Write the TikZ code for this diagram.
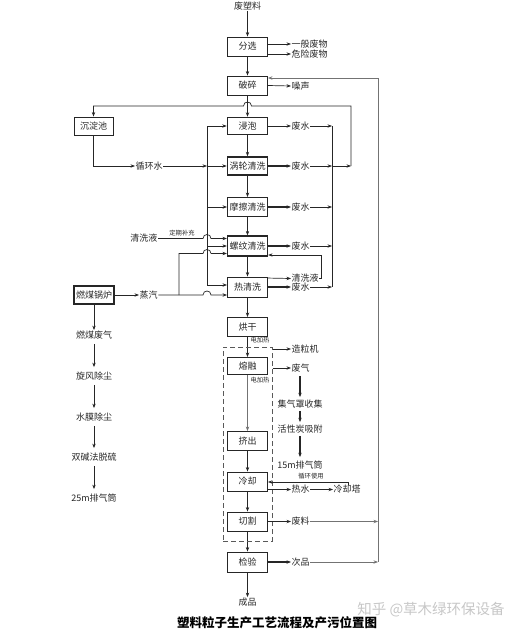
\documentclass[tikz,border=0pt]{standalone}
\usepackage{fontspec}
\setmainfont{Noto Sans CJK SC}
\usetikzlibrary{arrows.meta}
\newcommand\hopup{.. controls +(0,-5.3) and +(0,-5.3) ..}
\begin{document}
\begin{tikzpicture}[x=1pt,y=-1pt,
  every node/.style={font=\fontsize{9}{10}\selectfont, inner sep=0.5pt, text=black!85},
  box/.style={draw=black!85, line width=0.9pt, minimum width=40pt, minimum height=19pt, inner sep=0pt},
  tbox/.style={box, line width=1.5pt},
  lbl/.style={anchor=west},
  arr/.style={-{Stealth[length=4.5pt,width=3.4pt]}, line width=0.7pt, draw=black!85},
  tarr/.style={arr, line width=1.3pt},
  garr/.style={arr, draw=black!55},
  ln/.style={line width=0.7pt, draw=black!85},
  small/.style={font=\fontsize{6.3}{7}\selectfont},
]
\useasboundingbox (0,0) rectangle (524,634);

% ---------- main column ----------
\node (src) at (247.5,6) {废塑料};
\node[box] (fx) at (247.5,46.5) {分选};
\node[lbl] (yb) at (291,44) {一般废物};
\node[lbl] (wx) at (291,54) {危险废物};
\node[box] (ps) at (247.5,85.5) {破碎};
\node[lbl] (zs) at (291,86) {噪声};
\node[tbox, minimum height=17pt] (jp) at (247.5,126) {浸泡};
\node[tbox, minimum height=18pt] (wl) at (247.5,166) {涡轮清洗};
\node[box] (mc) at (247.5,207) {摩擦清洗};
\node[box, line width=1.2pt, minimum height=20pt] (lw) at (247.5,246) {螺纹清洗};
\node[box, minimum height=20pt] (rq) at (247.5,287) {热清洗};
\node[box] (hg) at (247.5,327) {烘干};
\node[box, minimum height=17pt] (rr) at (247.5,366) {熔融};
\node[box] (jc) at (247.5,441) {挤出};
\node[box] (lq) at (247.5,481.5) {冷却};
\node[box] (qg) at (247.5,521.5) {切割};
\node[box, minimum height=20pt] (jy) at (247.5,562) {检验};
\node (cp) at (247.5,602) {成品};

\draw[arr] (src.south) -- (fx.north);
\draw[arr] (fx) -- (ps);
\draw[arr] (ps) -- (jp);
\draw[arr] (jp) -- (wl);
\draw[arr] (wl) -- (mc);
\draw[arr] (mc) -- (lw);
\draw[arr] (lw) -- (rq);
\draw[tarr] (rq) -- (hg);
\draw[tarr] (hg) -- (rr);
\draw[garr] (rr) -- (jc);
\draw[arr] (jc) -- (lq);
\draw[arr] (lq) -- (qg);
\draw[arr] (qg) -- (jy);
\draw[tarr] (jy) -- (cp);

\draw[arr] ([yshift=2.5pt]fx.east) -- (yb.west);
\draw[arr] ([yshift=-7.5pt]fx.east) -- (wx.west);
\draw[arr] (ps.east) -- (zs.west);

% ---------- waste water ----------
\node[lbl] (fs1) at (291,126) {废水};
\node[lbl] (fs2) at (291,166) {废水};
\node[lbl] (fs3) at (291,207) {废水};
\node[lbl] (fs4) at (291,246) {废水};
\node[lbl] (fs5) at (291,287) {废水};
\coordinate (c1) at (332,126);
\coordinate (c2) at (332,166);
\coordinate (c3) at (332,207);
\coordinate (c4) at (332,246);
\coordinate (c5) at (332,287);
\draw[arr] (jp.east) -- (fs1.west);
\draw[tarr] (wl.east) -- (fs2.west);
\draw[tarr] (mc.east) -- (fs3.west);
\draw[tarr] (lw.east) -- (fs4.west);
\draw[tarr] (rq.east) -- (fs5.west);
\foreach \i in {1,...,5} {\draw[arr] (fs\i.east) -- (c\i);}
\draw[ln] (c1) -- (c5);

\node[box, minimum width=39pt, minimum height=18pt] (cdc) at (93.5,126) {沉淀池};
\coordinate (c2r) at (351,166);
\coordinate (tr) at (351,106);
\coordinate (tl) at (93.5,106);
\coordinate (hopR) at (251.5,106);
\coordinate (hopL) at (243.5,106);
\draw[arr] (c2) -- (c2r);
\draw[arr] (c2r) -- (tr) -- (hopR) \hopup (hopL) -- (tl) -- (cdc.north);

% ---------- recycled water ----------
\node[lbl] (xhs) at (135,166) {循环水};
\coordinate (v1) at (207,126);
\coordinate (v2) at (207,166);
\coordinate (v3) at (207,207);
\coordinate (v4) at (207,246);
\coordinate (v5) at (207,285);
\draw[arr] (cdc.south) |- (xhs.west);
\draw[arr] (xhs.east) -- (v2);
\draw[ln] (v1) -- (v5);
\draw[arr] (v1) -- (jp.west);
\draw[arr] (v2) -- (wl.west);
\draw[arr] (v3) -- (mc.west);
\draw[arr] (v4) -- (lw.west);
\draw[arr] (v5) -- (v5 -| rq.west);

% ---------- cleaning liquid ----------
\node[anchor=east] (qxy) at (158,238.5) {清洗液};
\node[small] (dq) at (182,233) {定期补充};
\coordinate (q1) at (203,238.5);
\coordinate (q2) at (211,238.5);
\draw[arr] (qxy.east) -- (q1) \hopup (q2) -- (q2 -| lw.west);

\node[lbl] (qxy2) at (291,278.5) {清洗液};
\coordinate (r1) at (321,278.5);
\coordinate (r2) at (321,255);
\draw[arr] ([yshift=-1.5pt]rq.north east) -- (qxy2.west);
\draw[arr] (qxy2.east) -- (r1) -- (r2) -- (r2 -| lw.east);

% ---------- steam ----------
\node[box, line width=1.3pt, minimum height=18pt] (gl) at (94,295) {燃煤锅炉};
\node[lbl] (zq) at (139,295) {蒸汽};
\coordinate (s0) at (179,295);
\coordinate (s1) at (203,295);
\coordinate (s2) at (211,295);
\coordinate (s3) at (179,253.5);
\coordinate (s4) at (203,253.5);
\coordinate (s5) at (211,253.5);
\draw[arr] (gl.east) -- (zq.west);
\draw[arr] (zq.east) -- (s1) \hopup (s2) -- (s2 -| rq.west);
\draw[ln] (s0) -- (s3) -- (s4) \hopup (s5);
\draw[arr] (s5) -- (s5 -| lw.west);

% ---------- boiler exhaust ----------
\node (rmfq) at (94,335) {燃煤废气};
\node (xfcc) at (94,376) {旋风除尘};
\node (smcc) at (94,417) {水膜除尘};
\node (sjf) at (94,457) {双碱法脱硫};
\node (pq25) at (94,498) {25m排气筒};
\draw[arr] (gl.south) -- (rmfq.north);
\draw[arr, shorten <=4pt, shorten >=4pt] (rmfq) -- (xfcc);
\draw[arr, shorten <=4pt, shorten >=4pt] (xfcc) -- (smcc);
\draw[arr, shorten <=4pt, shorten >=4pt] (smcc) -- (sjf);
\draw[arr, shorten <=4pt, shorten >=4pt] (sjf) -- (pq25);

% ---------- granulator ----------
\node[draw=black!65, dash pattern=on 5pt off 3pt, line width=1pt, minimum width=49pt, minimum height=194pt, inner sep=0pt] (db) at (247.5,444) {};
\node[small] (dj1) at (260,340) {电加热};
\node[small] (dj2) at (260,380) {电加热};
\node[lbl] (zlj) at (291,349) {造粒机};
\node[lbl] (fq) at (291,368) {废气};
\draw[arr] (db.east |- zlj.west) -- (zlj.west);
\draw[arr] (db.east |- fq.west) -- (fq.west);
\node (jqz) at (300,404) {集气罩收集};
\node (hxt) at (300,429) {活性炭吸附};
\node (pq15) at (300,465) {15m排气筒};
\draw[tarr, shorten <=3pt, shorten >=2pt] (jqz.north |- fq.south) -- (jqz.north);
\draw[tarr, shorten <=2pt, shorten >=2pt] (jqz) -- (hxt);
\draw[tarr, shorten <=2pt, shorten >=3pt] (hxt) -- (pq15);

% ---------- cooling ----------
\node[lbl] (rs) at (291,489.5) {热水};
\node[lbl] (lqt) at (333,489.5) {冷却塔};
\node[small] (xhsy) at (311,476.5) {循环使用};
\coordinate (lp) at (348,482);
\draw[arr] ([yshift=-8pt]lq.east) -- (rs.west);
\draw[arr] (rs.east) -- (lqt.west);
\draw[arr] (lp |- lqt.north) -- (lp) -- (lp -| lq.east);

% ---------- scrap and rejects ----------
\node[lbl] (fl) at (291,521.5) {废料};
\node[lbl] (cpin) at (291,562) {次品};
\coordinate (rb1) at (378,521.5);
\coordinate (rb2) at (378,562);
\coordinate (rt) at (378,78);
\draw[tarr] (qg.east) -- (fl.west);
\draw[tarr] (jy.east) -- (cpin.west);
\draw[garr] (fl.east) -- (rb1);
\draw[garr] (cpin.east) -- (rb2);
\draw[garr] (rb2) -- (rt) -- (rt -| ps.east);

% ---------- caption ----------
\node[font=\fontsize{12.5}{14}\selectfont\bfseries, text=black] (title) at (277,623) {塑料粒子生产工艺流程及产污位置图};
\node[font=\fontsize{14.5}{16}\selectfont, text=black!22] (wm) at (431,610) {知乎 @草木绿环保设备};
\end{tikzpicture}
\end{document}
